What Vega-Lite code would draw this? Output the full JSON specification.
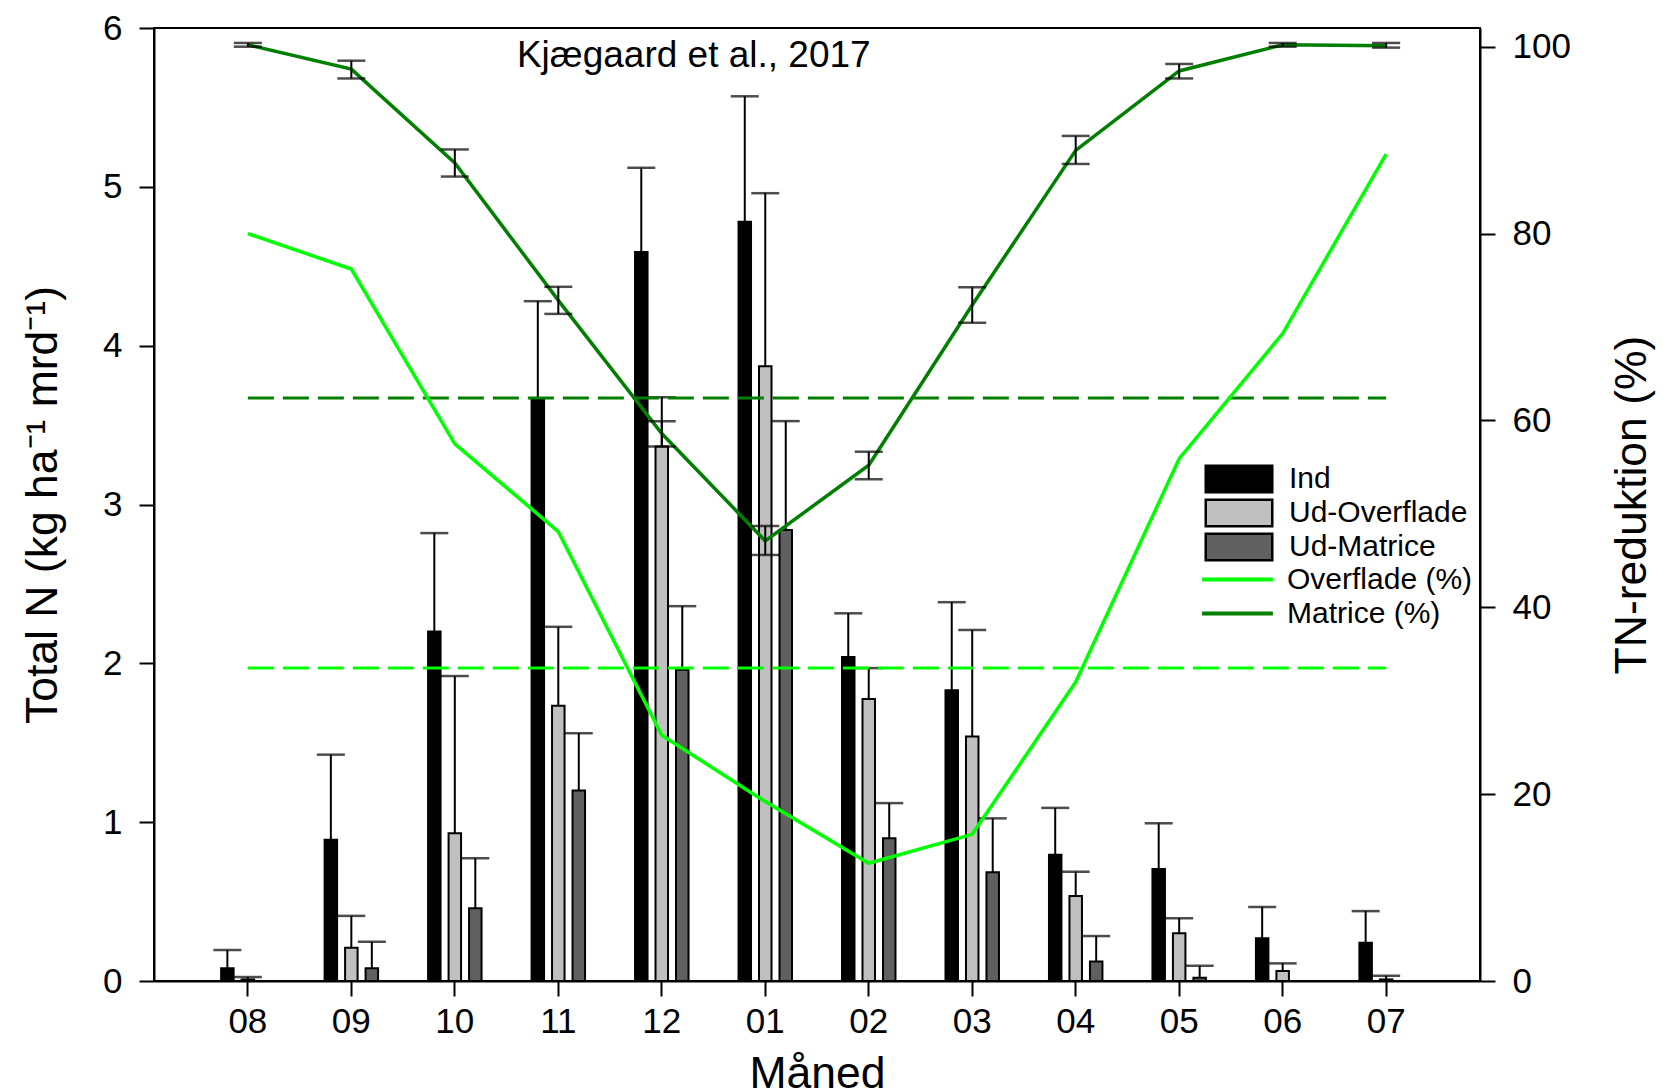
{
  "$schema": "https://vega.github.io/schema/vega-lite/v6.json",
  "width": 1326,
  "height": 953,
  "autosize": {"type": "none"},
  "padding": {"left": 154, "top": 28, "right": 183, "bottom": 111},
  "background": "white",
  "datasets": {
    "bars": [
      {"m": "08", "s": "Ind", "v": 0.08, "hi": 0.195},
      {"m": "08", "s": "Ud-Overflade", "v": 0.01, "hi": 0.025},
      {"m": "08", "s": "Ud-Matrice", "v": 0, "hi": null},
      {"m": "09", "s": "Ind", "v": 0.89, "hi": 1.425},
      {"m": "09", "s": "Ud-Overflade", "v": 0.21, "hi": 0.41},
      {"m": "09", "s": "Ud-Matrice", "v": 0.08, "hi": 0.247},
      {"m": "10", "s": "Ind", "v": 2.2, "hi": 2.82},
      {"m": "10", "s": "Ud-Overflade", "v": 0.93, "hi": 1.92},
      {"m": "10", "s": "Ud-Matrice", "v": 0.458, "hi": 0.773},
      {"m": "11", "s": "Ind", "v": 3.67, "hi": 4.28},
      {"m": "11", "s": "Ud-Overflade", "v": 1.733, "hi": 2.23},
      {"m": "11", "s": "Ud-Matrice", "v": 1.2, "hi": 1.56},
      {"m": "12", "s": "Ind", "v": 4.59, "hi": 5.12},
      {"m": "12", "s": "Ud-Overflade", "v": 3.365, "hi": 3.675},
      {"m": "12", "s": "Ud-Matrice", "v": 1.96, "hi": 2.36},
      {"m": "01", "s": "Ind", "v": 4.78, "hi": 5.57},
      {"m": "01", "s": "Ud-Overflade", "v": 3.87, "hi": 4.96},
      {"m": "01", "s": "Ud-Matrice", "v": 2.84, "hi": 3.525},
      {"m": "02", "s": "Ind", "v": 2.04, "hi": 2.315},
      {"m": "02", "s": "Ud-Overflade", "v": 1.776, "hi": 1.97},
      {"m": "02", "s": "Ud-Matrice", "v": 0.898, "hi": 1.12},
      {"m": "03", "s": "Ind", "v": 1.83, "hi": 2.385},
      {"m": "03", "s": "Ud-Overflade", "v": 1.54, "hi": 2.21},
      {"m": "03", "s": "Ud-Matrice", "v": 0.684, "hi": 1.024},
      {"m": "04", "s": "Ind", "v": 0.795, "hi": 1.09},
      {"m": "04", "s": "Ud-Overflade", "v": 0.535, "hi": 0.688},
      {"m": "04", "s": "Ud-Matrice", "v": 0.122, "hi": 0.283},
      {"m": "05", "s": "Ind", "v": 0.705, "hi": 0.993},
      {"m": "05", "s": "Ud-Overflade", "v": 0.3, "hi": 0.395},
      {"m": "05", "s": "Ud-Matrice", "v": 0.02, "hi": 0.096},
      {"m": "06", "s": "Ind", "v": 0.269, "hi": 0.466},
      {"m": "06", "s": "Ud-Overflade", "v": 0.063, "hi": 0.111},
      {"m": "06", "s": "Ud-Matrice", "v": 0, "hi": null},
      {"m": "07", "s": "Ind", "v": 0.241, "hi": 0.44},
      {"m": "07", "s": "Ud-Overflade", "v": 0.01, "hi": 0.033},
      {"m": "07", "s": "Ud-Matrice", "v": 0, "hi": null}
    ],
    "pct": [
      {"m": "08", "s": "Overflade (%)", "v": 80.0, "lo": null, "hi": null},
      {"m": "09", "s": "Overflade (%)", "v": 76.2, "lo": null, "hi": null},
      {"m": "10", "s": "Overflade (%)", "v": 57.5, "lo": null, "hi": null},
      {"m": "11", "s": "Overflade (%)", "v": 48.1, "lo": null, "hi": null},
      {"m": "12", "s": "Overflade (%)", "v": 26.3, "lo": null, "hi": null},
      {"m": "01", "s": "Overflade (%)", "v": 19.2, "lo": null, "hi": null},
      {"m": "02", "s": "Overflade (%)", "v": 12.6, "lo": null, "hi": null},
      {"m": "03", "s": "Overflade (%)", "v": 15.7, "lo": null, "hi": null},
      {"m": "04", "s": "Overflade (%)", "v": 32.0, "lo": null, "hi": null},
      {"m": "05", "s": "Overflade (%)", "v": 55.9, "lo": null, "hi": null},
      {"m": "06", "s": "Overflade (%)", "v": 69.3, "lo": null, "hi": null},
      {"m": "07", "s": "Overflade (%)", "v": 88.5, "lo": null, "hi": null},
      {"m": "08", "s": "Matrice (%)", "v": 100.2, "lo": 100.0, "hi": 100.4},
      {"m": "09", "s": "Matrice (%)", "v": 97.6, "lo": 96.6, "hi": 98.5},
      {"m": "10", "s": "Matrice (%)", "v": 87.55, "lo": 86.1, "hi": 89.0},
      {"m": "11", "s": "Matrice (%)", "v": 72.85, "lo": 71.4, "hi": 74.3},
      {"m": "12", "s": "Matrice (%)", "v": 58.6, "lo": 57.2, "hi": 59.9},
      {"m": "01", "s": "Matrice (%)", "v": 47.1, "lo": 45.6, "hi": 48.7},
      {"m": "02", "s": "Matrice (%)", "v": 55.2, "lo": 53.7, "hi": 56.65},
      {"m": "03", "s": "Matrice (%)", "v": 72.35, "lo": 70.45, "hi": 74.25},
      {"m": "04", "s": "Matrice (%)", "v": 88.9, "lo": 87.45, "hi": 90.45},
      {"m": "05", "s": "Matrice (%)", "v": 97.4, "lo": 96.6, "hi": 98.15},
      {"m": "06", "s": "Matrice (%)", "v": 100.2, "lo": 100.0, "hi": 100.4},
      {"m": "07", "s": "Matrice (%)", "v": 100.1, "lo": 99.9, "hi": 100.4}
    ],
    "dashO": [
      {"m": "08", "v": 33.5},
      {"m": "07", "v": 33.5}
    ],
    "dashM": [
      {"m": "08", "v": 62.4},
      {"m": "07", "v": 62.4}
    ],
    "note": [
      {"label": "Kjægaard et al., 2017"}
    ]
  },
  "layer": [
    {
      "layer": [
        {
          "data": {"name": "bars"},
          "mark": {"type": "bar", "stroke": "black", "strokeWidth": 2},
          "encoding": {
            "x": {"field": "m", "type": "ordinal", "sort": ["08","09","10","11","12","01","02","03","04","05","06","07"], "scale": {"paddingInner": 0.406, "paddingOuter": 0.61}, "title": "Måned", "axis": {"labelAngle": 0, "labelPadding": 8, "titlePadding": 13}},
            "xOffset": {"field": "s", "type": "nominal", "sort": ["Ind", "Ud-Overflade", "Ud-Matrice"], "scale": {"paddingInner": 0.39, "paddingOuter": 0.195}},
            "y": {"field": "v", "type": "quantitative", "scale": {"domain": [0, 6], "nice": false}, "title": "Total N (kg ha⁻¹ mrd⁻¹)", "axis": {"values": [0,1,2,3,4,5,6], "format": "d", "labelPadding": 17, "titlePadding": 37}},
            "fill": {"field": "s", "type": "nominal", "scale": {"domain": ["Ind", "Ud-Overflade", "Ud-Matrice"], "range": ["#000000", "#c0c0c0", "#606060"]},
              "legend": {"orient": "none", "legendX": 1070, "legendY": 436, "title": null, "symbolType": "M-2.5,-1H2.5V1H-2.5Z", "symbolSize": 708, "symbolStrokeColor": "black", "symbolStrokeWidth": 2.5, "labelFontSize": 30, "labelOffset": 35, "labelLimit": 400, "rowPadding": -5, "padding": 0, "labelColor": "black", "labelFont": "Liberation Sans"}}
          }
        },
        {
          "data": {"name": "bars"},
          "transform": [{"filter": "datum.hi != null"}],
          "mark": {"type": "rule", "color": "black", "strokeWidth": 2},
          "encoding": {
            "x": {"field": "m", "type": "ordinal", "sort": ["08","09","10","11","12","01","02","03","04","05","06","07"], "title": "Måned"},
            "xOffset": {"field": "s", "type": "nominal", "sort": ["Ind", "Ud-Overflade", "Ud-Matrice"]},
            "y": {"field": "v", "type": "quantitative", "title": "Total N (kg ha⁻¹ mrd⁻¹)"},
            "y2": {"field": "hi"}
          }
        },
        {
          "data": {"name": "bars"},
          "transform": [{"filter": "datum.hi != null"}],
          "mark": {"type": "tick", "color": "black", "thickness": 2.5, "size": 28},
          "encoding": {
            "x": {"field": "m", "type": "ordinal", "sort": ["08","09","10","11","12","01","02","03","04","05","06","07"], "title": "Måned"},
            "xOffset": {"field": "s", "type": "nominal", "sort": ["Ind", "Ud-Overflade", "Ud-Matrice"]},
            "y": {"field": "hi", "type": "quantitative", "title": "Total N (kg ha⁻¹ mrd⁻¹)"}
          }
        },
        {
          "data": {"name": "note"},
          "mark": {"type": "text", "fontSize": 37, "align": "center", "baseline": "alphabetic", "dx": 32, "color": "black", "font": "Liberation Sans"},
          "encoding": {
            "text": {"field": "label"},
            "x": {"datum": "12", "type": "ordinal", "title": "Måned"},
            "y": {"datum": 5.755, "type": "quantitative", "title": "Total N (kg ha⁻¹ mrd⁻¹)"}
          }
        }
      ]
    },
    {
      "layer": [
        {
          "data": {"name": "dashO"},
          "mark": {"type": "line", "color": "#00ff00", "strokeWidth": 3, "strokeDash": [26, 9]},
          "encoding": {
            "x": {"field": "m", "type": "ordinal", "sort": ["08","09","10","11","12","01","02","03","04","05","06","07"], "title": "Måned"},
            "y": {"field": "v", "type": "quantitative", "scale": {"domain": [0, 102], "nice": false}, "title": "TN-reduktion (%)", "axis": {"orient": "right", "values": [0,20,40,60,80,100], "labelPadding": 17, "titleAngle": 270, "titleBaseline": "top", "titlePadding": 40}}
          }
        },
        {
          "data": {"name": "dashM"},
          "mark": {"type": "line", "color": "#007f00", "strokeWidth": 3, "strokeDash": [26, 9]},
          "encoding": {
            "x": {"field": "m", "type": "ordinal", "sort": ["08","09","10","11","12","01","02","03","04","05","06","07"], "title": "Måned"},
            "y": {"field": "v", "type": "quantitative", "title": "TN-reduktion (%)"}
          }
        },
        {
          "data": {"name": "pct"},
          "mark": {"type": "line", "strokeWidth": 3.5},
          "encoding": {
            "x": {"field": "m", "type": "ordinal", "sort": ["08","09","10","11","12","01","02","03","04","05","06","07"], "title": "Måned"},
            "y": {"field": "v", "type": "quantitative", "title": "TN-reduktion (%)"},
            "stroke": {"field": "s", "type": "nominal", "scale": {"domain": ["Overflade (%)", "Matrice (%)"], "range": ["#00ff00", "#007f00"]},
              "legend": {"orient": "none", "legendX": 1068, "legendY": 536, "title": null, "symbolType": "M-2.66,0H2.66", "symbolSize": 708, "symbolStrokeWidth": 4, "symbolFillColor": "transparent", "labelFontSize": 30, "labelOffset": 34, "labelLimit": 400, "rowPadding": 3, "padding": 0, "labelColor": "black", "labelFont": "Liberation Sans"}}
          }
        },
        {
          "data": {"name": "pct"},
          "transform": [{"filter": "datum.hi != null"}],
          "mark": {"type": "rule", "color": "black", "strokeWidth": 2},
          "encoding": {
            "x": {"field": "m", "type": "ordinal", "sort": ["08","09","10","11","12","01","02","03","04","05","06","07"], "title": "Måned"},
            "y": {"field": "lo", "type": "quantitative", "title": "TN-reduktion (%)"},
            "y2": {"field": "hi"}
          }
        },
        {
          "data": {"name": "pct"},
          "transform": [{"filter": "datum.hi != null"}],
          "mark": {"type": "tick", "color": "black", "thickness": 2.5, "size": 28},
          "encoding": {
            "x": {"field": "m", "type": "ordinal", "sort": ["08","09","10","11","12","01","02","03","04","05","06","07"], "title": "Måned"},
            "y": {"field": "lo", "type": "quantitative", "title": "TN-reduktion (%)"}
          }
        },
        {
          "data": {"name": "pct"},
          "transform": [{"filter": "datum.hi != null"}],
          "mark": {"type": "tick", "color": "black", "thickness": 2.5, "size": 28},
          "encoding": {
            "x": {"field": "m", "type": "ordinal", "sort": ["08","09","10","11","12","01","02","03","04","05","06","07"], "title": "Måned"},
            "y": {"field": "hi", "type": "quantitative", "title": "TN-reduktion (%)"}
          }
        }
      ]
    }
  ],
  "resolve": {"scale": {"y": "independent"}},
  "config": {
    "font": "Liberation Sans",
    "view": {"stroke": "black", "strokeWidth": 2},
    "axis": {"grid": false, "domainColor": "black", "domainWidth": 2, "tickColor": "black", "tickWidth": 2, "tickSize": 15, "labelFontSize": 35, "labelColor": "black", "labelFont": "Liberation Sans", "titleFont": "Liberation Sans", "titleFontSize": 44.5, "titleFontWeight": "normal", "titleColor": "black"}
  }
}
